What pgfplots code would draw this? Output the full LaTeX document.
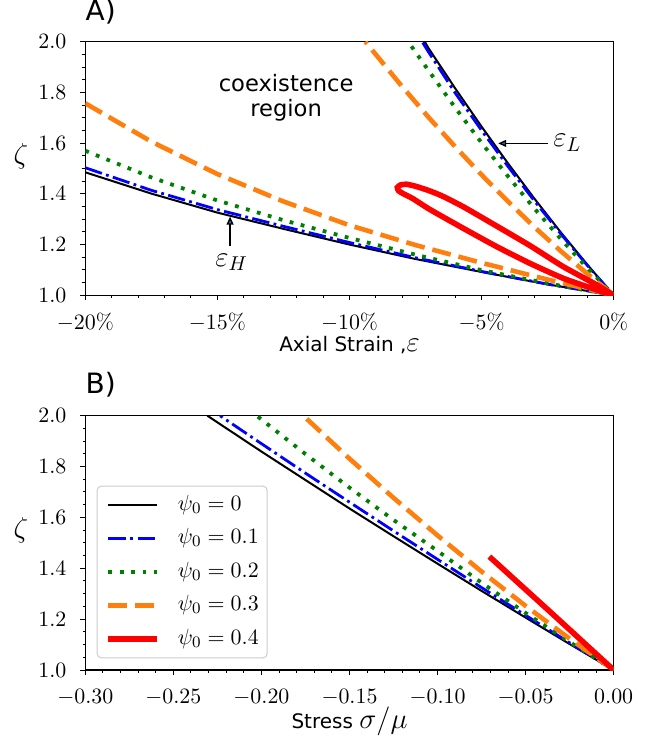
\documentclass[border=0pt]{standalone}
\usepackage{fontspec}
\usepackage{pgfplots}
\pgfplotsset{compat=1.18}
\usetikzlibrary{arrows.meta}
\newfontfamily\dejavu{DejaVu Sans}
\definecolor{mplorange}{HTML}{FF7F0E}
\definecolor{mplgreen}{HTML}{008000}
\definecolor{mplblue}{HTML}{1F77B4}
\pgfplotsset{
  common/.style={
    scale only axis, width=264.2pt,
    axis line style={line width=0.55pt},
    tick align=outside, xtick pos=bottom, ytick pos=left,
    tick style={black, line width=0.5pt},
    major tick length=2.45pt, minor tick length=1.4pt,
    ymin=1, ymax=2, ytick={1,1.2,1.4,1.6,1.8,2}, minor y tick num=3,
    yticklabel style={anchor=east, xshift=-6.8pt, inner sep=0pt, font=\fontsize{11}{13}\selectfont,
      /pgf/number format/.cd, fixed, fixed zerofill, precision=1},
    xticklabel style={anchor=base, yshift=-14.5pt, inner sep=0pt, font=\fontsize{11}{13}\selectfont},
    xlabel style={at={(axis description cs:0.5,0)}, anchor=base, yshift=-27.9pt, inner sep=0pt},
    ylabel={\fontsize{14}{16}\selectfont$\zeta$},
    ylabel style={at={(axis description cs:0,0.55)}, anchor=center, rotate=-90, xshift=-32.25pt, inner sep=0pt},
    title style={at={(axis description cs:0,1)}, anchor=base west, inner sep=0pt, font=\fontsize{14}{16}\selectfont},
  },
  s0/.style={black, line width=1pt},
  s1/.style={blue, line width=1.4pt, dash pattern=on 8.75pt off 2.2pt on 1.4pt off 2.2pt},
  s2/.style={mplgreen, line width=1.9pt, dash pattern=on 1.9pt off 3.8pt},
  s3/.style={mplorange, line width=2.3pt, dash pattern=on 9.5pt off 4pt},
  s4/.style={red, line width=2.8pt},
}
\begin{document}
\begin{tikzpicture}
\useasboundingbox (0,0) rectangle (330pt,370pt);
% ---------------- Panel A ----------------
\begin{axis}[common, at={(42.65pt,222.35pt)}, anchor=south west, height=126.8pt,
  xmin=-20, xmax=0, xtick={-20,-15,-10,-5,0}, minor x tick num=4,
  xticklabel={$\pgfmathprintnumber{\tick}\%$},
  xlabel={\fontsize{10}{12}\selectfont\dejavu Axial Strain ,{\fontsize{14}{16}\selectfont$\varepsilon$}},
  title={\dejavu A)}, title style={yshift=4.7pt}]
\addplot[s0] coordinates {(-20,1.485) (-17.5,1.401) (-15,1.326) (-12.5,1.262) (-10,1.200) (-7.5,1.143) (-5,1.092) (-2.5,1.043) (0,1) (-1,1.121) (-2,1.248) (-3,1.381) (-4,1.520) (-5,1.665) (-6,1.816) (-7,1.973) (-7.15,2.0)};
\addplot[s1] coordinates {(-20,1.503) (-17.5,1.414) (-15,1.338) (-12.5,1.272) (-10,1.208) (-7.5,1.148) (-5,1.094) (-2.5,1.044) (0,1) (-1,1.118) (-2,1.242) (-3,1.372) (-4,1.508) (-5,1.650) (-6,1.798) (-7,1.958) (-7.25,2.0)};
\addplot[s2] coordinates {(-20,1.570) (-17.5,1.465) (-15,1.374) (-12.5,1.296) (-10,1.226) (-7.5,1.160) (-5,1.099) (-2.5,1.047) (0,1) (-1,1.108) (-2,1.222) (-3,1.342) (-4,1.469) (-5,1.601) (-6,1.740) (-7,1.885) (-7.78,2.0)};
\addplot[s3] coordinates {(-20,1.757) (-17.5,1.606) (-15,1.478) (-12.5,1.370) (-10,1.276) (-7.5,1.198) (-5,1.128) (-2.5,1.062) (0,1) (-1,1.085) (-2,1.174) (-3,1.269) (-4,1.370) (-5,1.475) (-6,1.586) (-7,1.701) (-8,1.822) (-9,1.949) (-9.4,2.0)};
\addplot[s4, smooth, tension=0.35] coordinates {(0,1) (-0.64,1.041) (-1.91,1.113) (-3.17,1.196) (-4.43,1.273) (-5.69,1.349) (-6.5,1.392) (-7.0,1.413) (-7.5,1.430) (-7.85,1.438) (-8.07,1.435) (-8.19,1.425) (-8.14,1.412) (-7.97,1.401) (-7.6,1.381) (-6.95,1.338) (-5.69,1.264) (-4.43,1.192) (-3.17,1.126) (-1.91,1.067) (-0.64,1.021) (0,1)};
\node[anchor=base, inner sep=0pt, font=\dejavu\fontsize{11.3}{13}\selectfont] at (axis cs:-12.4,1.803) {coexistence};
\node[anchor=base, inner sep=0pt, font=\dejavu\fontsize{11.3}{13}\selectfont] at (axis cs:-12.4,1.704) {region};
\draw[-{Triangle[length=4pt,width=3.5pt,fill=mplblue]}, line width=0.7pt] (axis cs:-14.52,1.196) -- (axis cs:-14.52,1.31);
\node[anchor=base, inner sep=0pt, font=\fontsize{14}{16}\selectfont] at (axis cs:-14.46,1.113) {$\varepsilon_H$};
\draw[-{Triangle[length=4pt,width=3.5pt,fill=mplblue]}, line width=0.7pt] (axis cs:-2.48,1.599) -- (axis cs:-4.37,1.599);
\node[anchor=base west, inner sep=0pt, font=\fontsize{14}{16}\selectfont] at (axis cs:-2.30,1.586) {$\varepsilon_L$};
\end{axis}
% ---------------- Panel B ----------------
\begin{axis}[common, at={(42.65pt,35pt)}, anchor=south west, height=127.15pt,
  xmin=-0.3, xmax=0, xtick={-0.3,-0.25,-0.2,-0.15,-0.1,-0.05,0}, minor x tick num=4,
  xticklabel style={/pgf/number format/.cd, fixed, fixed zerofill, precision=2},
  xlabel={\fontsize{10}{12}\selectfont\dejavu Stress {\fontsize{14}{16}\selectfont$\sigma/\mu$}},
  xlabel style={yshift=-1.2pt},
  title={\dejavu B)}, title style={yshift=5pt},
  legend cell align=left,
  legend image code/.code={\draw[#1] (0pt,0pt) -- (24.5pt,0pt);},
  legend style={at={(rel axis cs:0.0216,0.046)}, anchor=south west, draw=black!20, line width=0.5pt,
    rounded corners=2pt, fill=white, inner xsep=4.2pt, inner ysep=4.4pt, row sep=6.75pt,
    font=\fontsize{11}{13}\selectfont,
    nodes={inner sep=0pt, text height=7.6pt, text depth=2.4pt},
    /tikz/every odd column/.append style={column sep=8.8pt}}]
\addplot[s0] coordinates {(0,1) (-0.025,1.102) (-0.05,1.206) (-0.075,1.311) (-0.1,1.418) (-0.125,1.526) (-0.15,1.635) (-0.175,1.747) (-0.2,1.859) (-0.2307,2.0)};
\addlegendentry{$\psi_0 = 0$}
\addplot[s1] coordinates {(0,1) (-0.025,1.107) (-0.05,1.215) (-0.075,1.324) (-0.1,1.435) (-0.125,1.547) (-0.15,1.660) (-0.175,1.774) (-0.2,1.890) (-0.2235,2.0)};
\addlegendentry{$\psi_0 = 0.1$}
\addplot[s2] coordinates {(0,1) (-0.025,1.110) (-0.05,1.224) (-0.075,1.343) (-0.1,1.468) (-0.125,1.590) (-0.15,1.717) (-0.175,1.849) (-0.2027,2.0)};
\addlegendentry{$\psi_0 = 0.2$}
\addplot[s3] coordinates {(0,1) (-0.025,1.123) (-0.05,1.252) (-0.075,1.387) (-0.1,1.529) (-0.125,1.677) (-0.15,1.831) (-0.1762,2.0)};
\addlegendentry{$\psi_0 = 0.3$}
\addplot[s4] coordinates {(0,1) (-0.035,1.222) (-0.0706,1.446)};
\addlegendentry{$\psi_0 = 0.4$}
\end{axis}
\end{tikzpicture}
\end{document}
